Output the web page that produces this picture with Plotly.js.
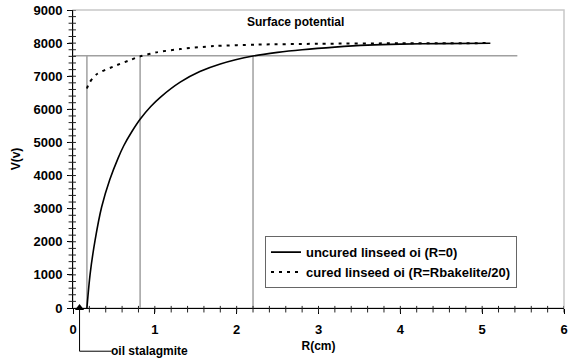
<!DOCTYPE html>
<html>
<head>
<meta charset="utf-8">
<script src="https://cdn.plot.ly/plotly-3.0.1.min.js"></script>
<style>html,body{margin:0;padding:0;background:#fff}#chart{width:571px;height:361px}</style>
</head>
<body>
<div id="chart"></div>
<script>
// uncured linseed oil (R=0)
const uncuredR = [0.17, 0.21, 0.27, 0.35, 0.45, 0.55, 0.62, 0.72, 0.82, 0.95, 1.07, 1.31, 1.55, 1.8, 2.2, 2.5, 2.8, 3.2, 3.6, 4.0, 4.5, 5.1];
const uncuredV = [0, 1040, 2050, 3050, 3880, 4520, 4900, 5330, 5700, 6085, 6370, 6820, 7140, 7370, 7610, 7720, 7800, 7880, 7940, 7970, 7985, 7995];
// cured linseed oil (R=Rbakelite/20)
const curedR = [0.17, 0.2, 0.29, 0.49, 0.7, 0.82, 1.02, 1.31, 1.72, 2.25, 3.0, 4.0, 5.1];
const curedV = [6630, 6800, 7060, 7290, 7490, 7600, 7720, 7820, 7910, 7955, 7980, 7995, 8000];
// reference lines
const refLevelV = 7620;
const refLevelR = [0, 5.43];
const refVerticalR = [0.17, 0.82, 2.2];
// oil stalagmite position
const stalagmiteR = [0.08];
const stalagmiteV = [0];
// axes
const xRange = [0, 6], yRange = [0, 9000];
const xTickStep = 1, xMinorStep = 0.2;
const yTickStep = 1000, yMinorStep = 200;

const FONT = 'Liberation Sans, Arial, sans-serif';
const gray = '#a0a0a0';
const traces = [];
traces.push({x: refLevelR, y: [refLevelV, refLevelV], mode: 'lines', line: {color: gray, width: 1.5}, showlegend: false, hoverinfo: 'skip'});
refVerticalR.forEach(r => traces.push({x: [r, r], y: [0, refLevelV], mode: 'lines', line: {color: gray, width: 1.5}, showlegend: false, hoverinfo: 'skip'}));
traces.push({x: uncuredR, y: uncuredV, mode: 'lines', name: 'uncured linseed oi (R=0)', legendgroup: 'a', line: {color: '#000', width: 1.6, shape: 'spline', smoothing: 0.8}});
traces.push({x: curedR, y: curedV, mode: 'lines', name: 'cured linseed oi (R=Rbakelite/20)', legendgroup: 'b', line: {color: '#000', width: 2, dash: '3px,5px', shape: 'spline', smoothing: 0.8}});
traces.push({x: stalagmiteR, y: stalagmiteV, mode: 'markers', marker: {symbol: 'triangle-up', size: 8, color: '#000'}, showlegend: false, cliponaxis: false, hoverinfo: 'skip'});

// minor tick marks as shapes positioned on the axis scales
const shapes = [
  {type: 'rect', xref: 'paper', yref: 'paper', x0: 0, x1: 1, y0: 0, y1: 1, line: {color: '#c8c8c8', width: 1.5}, layer: 'below'},
  {type: 'path', xref: 'x', yref: 'paper', path: 'M 0.08 0 L 0.08 -0.145 L 0.47 -0.145', line: {color: '#000', width: 1}}
];
for (let i = 1; i * xMinorStep < xRange[1] + 1e-9; i++) {
  const v = +(i * xMinorStep).toFixed(3);
  shapes.push({type: 'line', xref: 'x', yref: 'paper', x0: v, x1: v, y0: -0.015, y1: 0.007, line: {color: '#222', width: 1}, layer: 'above'});
}
for (let i = 1; i * yMinorStep < yRange[1] + 1e-9; i++) {
  const v = i * yMinorStep;
  shapes.push({type: 'line', xref: 'paper', yref: 'y', x0: -0.009, x1: 0.006, y0: v, y1: v, line: {color: '#222', width: 1}, layer: 'above'});
}

const layout = {
  width: 571, height: 361,
  margin: {l: 73, r: 7, t: 10, b: 53},
  paper_bgcolor: '#fff', plot_bgcolor: '#fff',
  font: {family: FONT, color: '#000', size: 12},
  showlegend: true,
  legend: {x: 0.391, y: 0.241, xanchor: 'left', yanchor: 'top', bordercolor: '#666', borderwidth: 1, bgcolor: '#fff',
    font: {family: FONT, size: 13, color: '#000', weight: 'bold'}, traceorder: 'grouped', tracegroupgap: 0, itemwidth: 30},
  xaxis: {range: xRange, tickmode: 'linear', tick0: 0, dtick: xTickStep, ticks: 'outside', ticklen: 5, tickcolor: '#000', tickwidth: 1,
    showline: true, linecolor: '#000', linewidth: 1, showgrid: false, zeroline: false, ticklabelstandoff: 4,
    tickfont: {family: FONT, size: 13, weight: 'bold'},
    title: {text: 'R(cm)', font: {family: FONT, size: 12, weight: 'bold'}, standoff: 6}},
  yaxis: {range: yRange, tickmode: 'linear', tick0: 0, dtick: yTickStep, ticks: 'outside', ticklen: 5, tickcolor: '#000', tickwidth: 1,
    showline: true, linecolor: '#000', linewidth: 1, showgrid: false, zeroline: false, ticklabelstandoff: 2,
    tickfont: {family: FONT, size: 13, weight: 'bold'},
    title: {text: 'V(v)', font: {family: FONT, size: 12, weight: 'bold'}, standoff: 10}},
  shapes: shapes,
  annotations: [
    {text: 'Surface potential', xref: 'paper', yref: 'paper', x: 0.454, y: 0.96, showarrow: false, xanchor: 'center', yanchor: 'middle',
      font: {family: FONT, size: 12, weight: 'bold'}},
    {text: 'oil stalagmite', xref: 'x', yref: 'paper', x: 0.47, y: -0.145, showarrow: false, xanchor: 'left', yanchor: 'middle', xshift: -2,
      font: {family: FONT, size: 12, weight: 'bold'}}
  ]
};
Plotly.newPlot('chart', traces, layout, {displayModeBar: false, staticPlot: true});
</script>
</body>
</html>
